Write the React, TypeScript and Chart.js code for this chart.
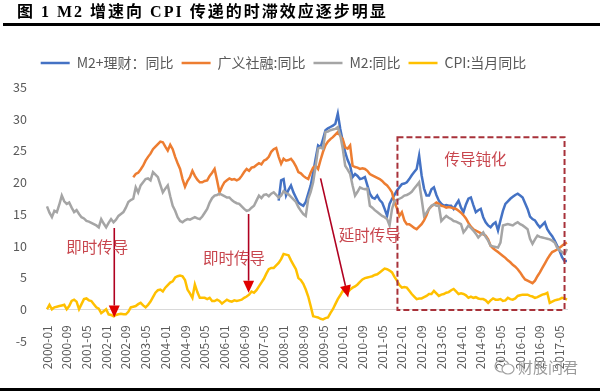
import React, { useEffect, useRef } from 'react';
import { Chart, registerables } from 'chart.js';

Chart.register(...registerables);

// ---- categories ----
const START_YEAR = 2000;
const MONTH_COUNT = 212; // 2000-01 .. 2017-08
const months: string[] = [];
for (let i = 0; i < MONTH_COUNT; i++) {
  const y = START_YEAR + Math.floor(i / 12);
  const m = (i % 12) + 1;
  months.push(`${y}-${m < 10 ? '0' + m : m}`);
}
const TICK_EVERY = 8;
const Y_TICKS = { min: -5, max: 35, step: 5 };

const nulls = (n: number) => new Array(n).fill(null);

// ---- series (monthly) ----
const m2 = [
  16.2, 15.2, 14.5, 15.5, 15.3, 16.5, 17.9, 17.0, 16.6, 16.8, 16.0, 15.3,
  15.6, 15.0, 14.5, 14.3, 13.9, 13.8, 13.6, 13.4, 13.2, 12.9, 14.2, 13.5,
  12.9, 13.6, 14.2, 13.7, 14.1, 14.7, 15.0, 15.3, 16.0, 16.9, 17.2, 17.4,
  19.2, 18.4, 19.5, 20.0, 20.5, 20.6, 20.3, 21.6, 21.2, 20.8, 19.6, 18.4,
  19.0, 19.5, 17.8, 16.3, 15.5, 14.5, 13.9, 13.7, 14.0, 14.2, 14.1, 14.3,
  14.5, 14.3, 14.2, 14.6, 15.2, 15.8, 16.8, 17.5, 17.9, 18.0, 18.2, 18.0,
  17.8, 17.6, 17.6, 17.2, 16.9, 16.7, 16.6, 16.2, 15.8, 15.5, 15.6, 16.0,
  16.3, 17.1, 17.9, 17.5, 18.0, 18.1, 17.8, 18.2, 18.4, 18.0, 17.6, 17.9,
  18.6, 18.3, 18.1, 17.7, 17.3, 16.9, 16.1, 15.5, 15.0, 14.7, 17.4, 18.5,
  20.0, 22.5, 25.3, 25.5, 25.3, 27.9, 28.0, 28.2, 28.3, 28.4, 28.7, 27.4,
  25.3, 22.6, 22.0, 21.3, 19.5, 17.9, 18.5, 19.2, 19.0, 18.9, 19.0, 16.3,
  16.0, 15.6, 15.3, 15.0, 14.7, 14.5, 14.2, 13.2, 15.8, 17.1, 17.2, 17.4,
  17.6, 17.9, 18.0, 18.2, 18.5, 19.0, 19.5, 20.0, 17.4, 14.7, 15.2, 15.8,
  16.3, 16.5, 16.3, 16.3, 13.9, 14.3, 14.7, 14.4, 14.2, 13.9, 13.8, 13.6,
  13.4, 12.1, 12.6, 13.2, 12.8, 12.4, 11.9, 11.3, 11.7, 12.1, 11.4, 10.8,
  10.0, 9.9, 9.8, 9.7, 10.5, 13.2, 13.3, 13.4, 13.3, 13.2, 13.5, 13.7,
  13.4, 13.2, 12.9, 12.6, 11.1, 10.3, 11.0, 11.6, 11.4, 11.3, 11.2, 11.1,
  11.0, 10.8, 10.5, 9.7, 9.3, 9.0, 8.7, 9.5,
];

const tsf = nulls(35).concat([
  20.8,
  21.3, 21.5, 22.0, 22.6, 23.4, 24.0, 24.5, 25.2, 25.6, 26.0, 26.4, 26.3,
  25.6, 25.0, 25.9, 25.2, 24.0, 23.0, 22.1, 20.5, 19.3, 20.2, 20.8, 21.8,
  21.0, 20.4, 20.0, 20.0, 20.2, 20.3, 21.0, 21.5, 22.1, 20.3, 18.4, 19.3,
  20.0, 20.3, 20.6, 20.4, 20.5, 20.3, 20.5, 21.0, 21.6, 22.1, 21.8, 22.3,
  22.4, 22.7, 23.0, 22.8, 23.4, 23.6, 24.0, 24.8, 25.2, 25.4, 24.0, 22.9,
  23.7, 23.4, 23.5, 23.7, 23.2, 22.5, 21.6, 21.4, 21.0, 20.7, 20.5, 21.5,
  22.3, 22.6, 22.1, 23.5, 24.8, 25.8, 26.4, 26.8, 27.1, 27.5, 27.9, 27.3,
  26.8, 25.5, 25.3, 25.8, 22.6, 22.4, 22.3, 22.1, 22.2, 22.1, 21.8, 21.3,
  21.1, 20.9, 20.7, 20.5, 20.2, 19.8, 19.5, 19.0, 18.4, 16.8, 15.9, 14.7,
  15.3, 14.0, 13.4, 13.4, 13.1, 12.8, 12.6, 13.0, 13.4, 14.0, 14.8, 15.8,
  16.2, 16.5, 16.8, 16.6, 16.3, 16.2, 16.0, 16.1, 16.0, 15.9, 15.8, 15.5,
  15.2, 14.8, 14.3, 13.6, 13.0, 12.6, 12.4, 12.2, 12.0, 11.8, 11.6, 11.0,
  10.0, 9.6, 9.3, 9.0, 8.7, 8.4, 8.1, 7.7, 7.4, 7.0, 6.7, 6.3,
  5.8, 5.2, 4.7, 4.5, 4.3, 4.1, 4.5, 5.2, 5.8, 6.5, 7.2, 7.9,
  8.5, 9.0, 9.2, 9.4, 9.7, 10.0, 10.3, 10.5,
]);

const m2Wealth = nulls(94).concat([
  17.1, 20.3,
  20.5, 17.9, 18.8, 19.5, 18.4, 17.6, 16.8, 16.5, 16.3, 16.9, 18.2, 19.5,
  21.5, 23.7, 25.8, 25.5, 26.8, 28.2, 28.5, 28.7, 28.9, 29.2, 30.8, 28.4,
  26.5, 24.7, 23.5, 22.6, 20.8, 21.3, 21.0, 20.5, 20.6, 20.8, 19.5, 18.2,
  17.6, 17.4, 17.9, 17.2, 16.8, 15.8, 14.7, 16.6, 17.4, 18.0, 18.7, 19.2,
  19.7, 19.8, 20.0, 20.5, 21.1, 21.6, 22.1, 24.2, 21.1, 19.0, 17.9, 17.9,
  18.9, 19.2, 18.0, 17.1, 16.6, 16.3, 16.4, 16.3, 16.3, 15.8, 16.5, 17.1,
  16.0, 15.3, 16.5, 17.4, 17.6, 16.4, 15.3, 15.6, 15.8, 14.5, 13.7, 13.2,
  12.9, 13.4, 13.7, 12.4, 14.0, 15.5, 16.6, 17.0, 17.4, 17.7, 18.0, 18.2,
  17.9, 17.6, 16.7, 15.8, 14.6, 14.2, 14.0, 13.4, 12.9, 13.3, 13.7, 12.6,
  12.0, 11.5, 10.8, 10.0, 9.2, 8.2, 7.6, 7.6,
]);

const cpi = [
  0.0, 0.7, 0.0, 0.3, 0.4, 0.5, 0.6, 0.7, 0.0, 0.5, 1.3, 1.5,
  1.2, 0.0, 0.8, 1.6, 1.7, 1.4, 1.3, 0.8, 0.3, 0.1, -0.6, -0.3,
  0.0, -0.8, -0.9, -1.1, -0.9, -0.8, -0.7, -0.8, -0.8, -0.4, 0.3, 0.4,
  0.5, 0.8, 1.0, 0.6, 0.3, 0.7, 1.2, 1.9, 2.6, 3.0, 3.1, 2.8,
  3.4, 3.8, 4.2, 4.4, 5.0, 5.2, 5.3, 5.2, 4.6, 3.1, 2.5, 1.8,
  3.9, 2.7, 1.8, 1.8, 1.8, 1.6, 1.8, 1.3, 1.3, 1.5, 1.3, 0.9,
  1.2, 1.5, 1.3, 1.2, 1.4, 1.3, 1.4, 1.5, 1.8, 2.0, 2.3, 2.8,
  2.6, 3.0, 3.6, 4.2, 4.8, 5.6, 6.3, 6.5, 6.5, 6.9, 7.3, 7.9,
  8.7, 8.6, 8.5, 7.7, 7.0, 6.3, 4.9, 4.6, 4.0, 3.1, 2.0, 0.5,
  -1.1, -1.2, -1.3, -1.5, -1.6, -1.4, -1.3, -0.6, 0.0, 0.8, 1.6, 2.2,
  2.9, 2.8, 2.7, 3.1, 3.4, 3.6, 3.9, 4.3, 4.7, 4.9, 5.0, 5.1,
  5.2, 5.4, 5.5, 5.8, 6.1, 6.4, 6.3, 6.1, 5.8, 5.1, 4.5, 3.8,
  3.4, 3.5, 3.4, 2.9, 2.4, 2.0, 1.6, 1.7, 1.7, 1.9, 2.1, 2.4,
  2.4, 2.9, 2.5, 2.1, 2.3, 2.4, 2.6, 2.7, 3.0, 3.2, 2.8, 2.4,
  2.5, 2.4, 2.2, 1.8, 2.0, 1.8, 1.9, 1.7, 1.6, 1.6, 1.4, 1.0,
  1.4, 1.7, 1.5, 1.5, 1.6, 1.3, 1.4, 1.8, 1.6, 1.5, 1.7, 2.1,
  2.2, 2.3, 2.3, 2.3, 2.1, 2.0, 1.8, 1.9, 2.1, 2.3, 2.4, 2.6,
  1.0, 1.2, 1.4, 1.5, 1.6, 1.8, 1.7, 1.5,
];

const seriesNames = ['M2+理财：同比', '广义社融:同比', 'M2:同比', 'CPI:当月同比'];
const seriesColors = ['#4472C4', '#ED7D31', '#A5A5A5', '#FFC000'];

// ---- annotations (in data units: [month index, value]) ----
const arrowFrom: [number, number][] = [[27.3, 12.8], [81.8, 15.0], [111.0, 20.6]];
const arrowTo: [number, number][] = [[27.3, -1.3], [81.8, 2.6], [122.2, 1.85]];
const noteTexts = ['即时传导', '即时传导', '延时传导', '传导钝化'];
const notePos: [number, number][] = [[20.4, 9.8], [75.9, 8.1], [131.0, 11.7], [173.9, 23.6]];
const boxFrom: [number, number] = [142.2, 27.1];
const boxTo: [number, number] = [210.0, -0.1];

const FONT = '"Noto Sans CJK SC", "Noto Sans", sans-serif';

const legendGap = {
  id: 'legendGap',
  beforeInit(chart: any) {
    const lg = chart.legend;
    if (!lg) return;
    const fit = lg.fit;
    lg.fit = function () {
      fit.call(this);
      this.height += 7;
    };
  },
};

const annotationPlugin = {
  id: 'notes',
  afterDatasetsDraw(chart: any) {
    const { ctx, scales } = chart;
    const xs = scales.x;
    const ys = scales.y;
    const px = (p: [number, number]) => [xs.getPixelForValue(p[0]), ys.getPixelForValue(p[1])];
    ctx.save();
    // dashed box
    const [bx1, by1] = px(boxFrom);
    const [bx2, by2] = px(boxTo);
    ctx.strokeStyle = '#A8323A';
    ctx.lineWidth = 2;
    ctx.setLineDash([6, 3]);
    ctx.strokeRect(bx1, by1, bx2 - bx1, by2 - by1);
    ctx.setLineDash([]);
    // arrows
    arrowFrom.forEach((f, i) => {
      const [x1, y1] = px(f);
      const [x2, y2] = px(arrowTo[i]);
      const ang = Math.atan2(y2 - y1, x2 - x1);
      const headLen = 12;
      const headHalf = 5.5;
      const bx = x2 - headLen * Math.cos(ang);
      const by = y2 - headLen * Math.sin(ang);
      ctx.strokeStyle = '#B00020';
      ctx.lineWidth = 1.6;
      ctx.beginPath();
      ctx.moveTo(x1, y1);
      ctx.lineTo(bx, by);
      ctx.stroke();
      ctx.fillStyle = '#E00000';
      ctx.beginPath();
      ctx.moveTo(x2, y2);
      ctx.lineTo(bx + headHalf * Math.sin(ang), by - headHalf * Math.cos(ang));
      ctx.lineTo(bx - headHalf * Math.sin(ang), by + headHalf * Math.cos(ang));
      ctx.closePath();
      ctx.fill();
    });
    // texts
    ctx.fillStyle = '#C8464E';
    ctx.font = `15.5px ${FONT}`;
    ctx.textAlign = 'center';
    ctx.textBaseline = 'middle';
    noteTexts.forEach((t, i) => {
      const [x, y] = px(notePos[i]);
      ctx.fillText(t, x, y);
    });
    ctx.restore();
  },
};

export default function App() {
  const ref = useRef<HTMLCanvasElement>(null);
  useEffect(() => {
    if (!ref.current) return;
    const data = [m2Wealth, tsf, m2, cpi];
    const chart = new Chart(ref.current, {
      type: 'line',
      data: {
        labels: months,
        datasets: data.map((d, i) => ({
          label: seriesNames[i],
          data: d,
          borderColor: seriesColors[i],
          backgroundColor: seriesColors[i],
          borderWidth: 2.5,
          pointRadius: 0,
          tension: 0,
          spanGaps: false,
          order: 4 - i,
        })),
      },
      options: {
        animation: false,
        responsive: false,
        devicePixelRatio: 1,
        layout: { padding: { top: 48, left: 0, right: 33, bottom: 51 } },
        plugins: {
          tooltip: { enabled: false },
          legend: {
            display: true,
            position: 'top',
            labels: {
              usePointStyle: true,
              pointStyle: 'line',
              pointStyleWidth: 29,
              padding: 8,
              color: '#595959',
              font: { family: FONT, size: 14 },
              sort: (a: any, b: any) => a.datasetIndex - b.datasetIndex,
            },
          },
        },
        scales: {
          x: {
            type: 'category',
            position: { y: 0 } as any,
            grid: { display: false },
            border: { display: true, color: '#D9D9D9', width: 1 },
            ticks: {
              autoSkip: false,
              maxRotation: 90,
              minRotation: 90,
              padding: 8,
              color: '#595959',
              font: { family: FONT, size: 12 },
              callback: (_v: any, idx: number) => (idx % TICK_EVERY === 0 ? months[idx] : null),
            },
          },
          y: {
            min: Y_TICKS.min,
            max: Y_TICKS.max,
            grid: { display: false },
            border: { display: false },
            afterFit: (s: any) => { s.width = 47; },
            ticks: {
              stepSize: Y_TICKS.step,
              padding: 12,
              color: '#595959',
              font: { family: FONT, size: 12.5 },
            },
          },
        },
      },
      plugins: [legendGap, annotationPlugin],
    });
    return () => chart.destroy();
  }, []);

  return (
    <div style={{ position: 'fixed', left: 0, top: 0, width: 600, height: 392, background: '#fff', overflow: 'hidden' }}>
      <canvas ref={ref} width={600} height={392} style={{ position: 'absolute', left: 0, top: 0, width: 600, height: 392 }} />
      <div style={{ position: 'absolute', left: 17, top: 2, fontFamily: '"Liberation Serif", "Noto Sans CJK SC", serif', fontWeight: 'bold', fontSize: 16, letterSpacing: 2, color: '#000', whiteSpace: 'nowrap', lineHeight: '19px' }}>
        图 1 M2 增速向 CPI 传递的时滞效应逐步明显
      </div>
      <div style={{ position: 'absolute', left: 3, right: 0, top: 23, height: 2.5, background: '#000' }} />
      <div style={{ position: 'absolute', left: 0, right: 0, top: 388, height: 3, background: '#000' }} />
      <div style={{ position: 'absolute', left: 494, top: 356, display: 'flex', alignItems: 'center', color: '#9a9a9a', fontFamily: FONT, fontSize: 15, whiteSpace: 'nowrap' }}>
        <svg width="22" height="18" viewBox="0 0 22 18" style={{ marginRight: 2 }}>
          <ellipse cx="8" cy="8" rx="7" ry="6" fill="none" stroke="#a0a0a0" strokeWidth="1.2" />
          <ellipse cx="14" cy="11" rx="6" ry="5" fill="#fff" stroke="#a0a0a0" strokeWidth="1.2" />
        </svg>
        <span>财股问君</span>
      </div>
    </div>
  );
}
